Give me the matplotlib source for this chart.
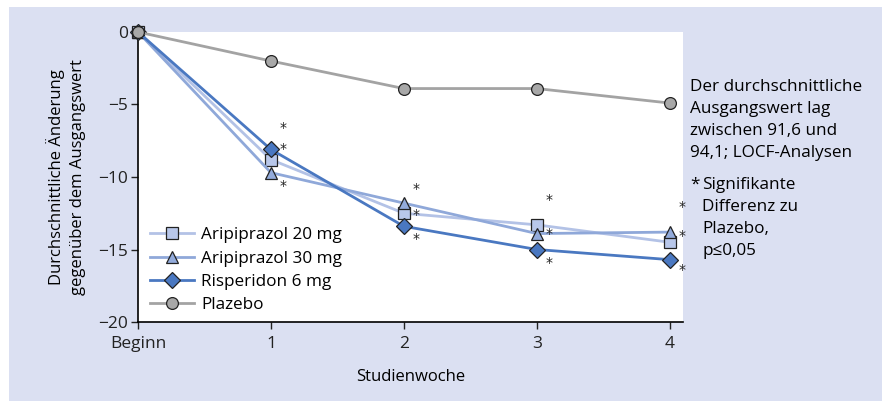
import matplotlib.pyplot as plt
from matplotlib.patches import Rectangle

plt.rcParams['font.family'] = ['Open Sans', 'DejaVu Sans']

# Daten
weeks = [0, 1, 2, 3, 4]
week_labels = ['Beginn', '1', '2', '3', '4']
ari20 = [0, -8.8, -12.5, -13.3, -14.5]
ari30 = [0, -9.7, -11.8, -13.9, -13.8]
risp6 = [0, -8.1, -13.4, -15.0, -15.7]
plazebo = [0, -2.0, -3.9, -3.9, -4.9]

# Signifikanz-Sterne (Woche, Wert)
star_weeks = [1, 1, 1, 2, 2, 2, 3, 3, 3, 4, 4, 4]
star_vals = [-6.6, -8.1, -10.6, -10.8, -12.6, -14.3,
             -11.6, -13.9, -15.9, -12.1, -14.1, -16.4]

BG = '#dbe0f2'
W, H = 894, 401
fig = plt.figure(figsize=(W / 100, H / 100), dpi=100)
fig.patches.append(Rectangle((9 / W, 0), (882 - 9) / W, (401 - 7) / H,
                             transform=fig.transFigure, facecolor=BG,
                             edgecolor='none', zorder=-10))

ax = fig.add_axes([138 / W, (H - 322) / H, (683 - 138) / W, (322 - 32) / H])
ax.set_facecolor('white')

series = [
    (ari20, 'Aripiprazol 20 mg', 's', '#b3c2e6', '#b8c7ea', 8),
    (ari30, 'Aripiprazol 30 mg', '^', '#8fa8d9', '#93abdb', 9),
    (risp6, 'Risperidon 6 mg', 'D', '#4a78c1', '#4a78c1', 8),
    (plazebo, 'Plazebo', 'o', '#a3a3a3', '#a8a8a8', 8.5),
]
for vals, lab, mk, lc, fc, ms in series:
    ax.plot(weeks, vals, color=lc, lw=2.0, marker=mk, ms=ms,
            markerfacecolor=fc, markeredgecolor='#222222', markeredgewidth=0.9,
            label=lab, clip_on=False, zorder=3)

for sw, sv in zip(star_weeks, star_vals):
    ax.text(sw + 0.09, sv, '*', ha='center', va='center', fontsize=10,
            color='#222222', family='DejaVu Sans')

ax.set_xlim(0, 4.1)
ax.set_ylim(-20, 0)
ax.set_xticks(weeks)
ax.set_xticklabels(week_labels)
ax.set_yticks([0, -5, -10, -15, -20])
for s in ['top', 'right']:
    ax.spines[s].set_visible(False)
for s in ['left', 'bottom']:
    ax.spines[s].set_linewidth(1.2)
ax.tick_params(direction='out', length=5, width=1, labelsize=12.5, colors='#222222')
ax.tick_params(axis='y', pad=2)
ax.tick_params(axis='x', pad=5)

ax.set_xlabel('Studienwoche', fontsize=12, labelpad=12)
ax.set_ylabel('Durchschnittliche Änderung\ngegenüber dem Ausgangswert',
              fontsize=12, labelpad=9, linespacing=1.45)

leg = ax.legend(loc='lower left', bbox_to_anchor=(0.0, -0.01), frameon=False,
                fontsize=12.3, handlelength=2.6, handletextpad=0.4,
                labelspacing=0.42, borderaxespad=0.3)

fig.text(690 / W, 1 - 79 / H,
         'Der durchschnittliche\nAusgangswert lag\nzwischen 91,6 und\n94,1; LOCF-Analysen',
         fontsize=12.3, va='top', ha='left', linespacing=1.5)
fig.text(690 / W, 1 - 177 / H, '*', fontsize=12.3, va='top', ha='left')
fig.text(702 / W, 1 - 177 / H, 'Signifikante\nDifferenz zu\nPlazebo,\np≤0,05',
         fontsize=12.3, va='top', ha='left', linespacing=1.5)

fig.savefig('out.png', dpi=100)
